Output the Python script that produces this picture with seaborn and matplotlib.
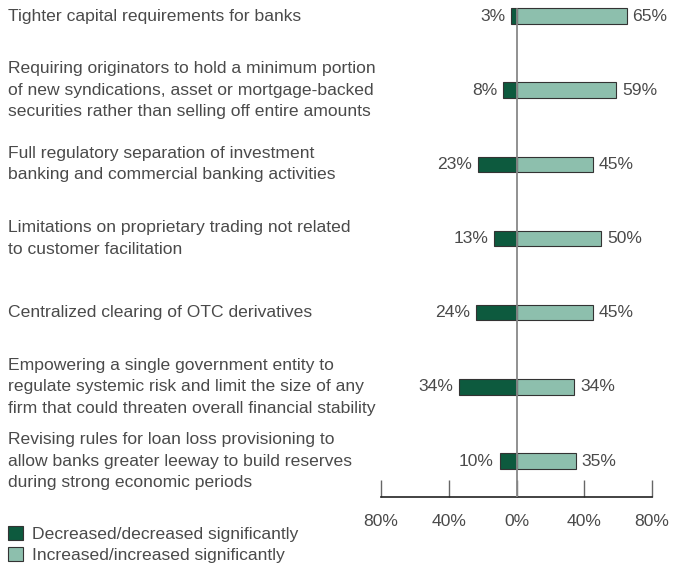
import matplotlib
matplotlib.use("Agg")
import matplotlib.pyplot as plt
import matplotlib.transforms as mtransforms
from matplotlib.patches import Patch
import pandas as pd
import seaborn as sns

categories = [
    "Tighter capital requirements for banks",
    "Requiring originators to hold a minimum portion\nof new syndications, asset or mortgage-backed\nsecurities rather than selling off entire amounts",
    "Full regulatory separation of investment\nbanking and commercial banking activities",
    "Limitations on proprietary trading not related\nto customer facilitation",
    "Centralized clearing of OTC derivatives",
    "Empowering a single government entity to\nregulate systemic risk and limit the size of any\nfirm that could threaten overall financial stability",
    "Revising rules for loan loss provisioning to\nallow banks greater leeway to build reserves\nduring strong economic periods",
]
decreased = [3, 8, 23, 13, 24, 34, 10]
increased = [65, 59, 45, 50, 45, 34, 35]
tick_values = [-80, -40, 0, 40, 80]
tick_labels = ["80%", "40%", "0%", "40%", "80%"]
legend_labels = ["Decreased/decreased significantly", "Increased/increased significantly"]

dark = "#0d5a3e"
light = "#8dbfad"
edge = "#333333"
txt = "#4a4a4a"
fs = 12.6

sns.set_style("white")
plt.rcParams["font.family"] = ["Liberation Sans", "DejaVu Sans"]

keys = [f"c{i}" for i in range(len(categories))]
df = pd.DataFrame({"key": keys, "dec": [-v for v in decreased], "inc": increased})

fig = plt.figure(figsize=(6.73, 5.65), dpi=100)
ax = fig.add_axes([381 / 673, 68 / 565, 271 / 673, 497 / 565])

sns.barplot(data=df, x="inc", y="key", orient="h", color=light, width=0.21,
            edgecolor=edge, linewidth=0.8, saturation=1, ax=ax)
sns.barplot(data=df, x="dec", y="key", orient="h", color=dark, width=0.21,
            edgecolor=edge, linewidth=0.8, saturation=1, ax=ax)

ax.set_xlim(-80, 80)
ax.set_ylim(6.485, -0.216)
ax.axvline(0, ymin=0, ymax=(6.485 + 0.1) / (6.485 + 0.216), color="#888888", lw=1.3, zorder=5)

for i in range(len(categories)):
    ax.text(-decreased[i] - 3.5, i, f"{decreased[i]}%", ha="right", va="center",
            fontsize=fs, color=txt)
    ax.text(increased[i] + 3.5, i, f"{increased[i]}%", ha="left", va="center",
            fontsize=fs, color=txt)

trans = mtransforms.blended_transform_factory(fig.transFigure, ax.transData)
for i, c in enumerate(categories):
    ax.text(8 / 673, i, c, transform=trans, ha="left", va="center",
            fontsize=fs, color=txt, linespacing=1.52)

for s in ["top", "right", "left"]:
    ax.spines[s].set_visible(False)
ax.spines["bottom"].set_color("#222222")
ax.spines["bottom"].set_linewidth(1.2)
ax.set_xticks(tick_values)
ax.set_xticklabels(tick_labels)
ax.tick_params(axis="x", direction="in", length=12, width=1, color="#666666",
               labelsize=fs, labelcolor=txt, pad=12, bottom=True)
ax.set_yticks([])
ax.set_xlabel("")
ax.set_ylabel("")

handles = [Patch(facecolor=dark, edgecolor=edge, lw=0.8),
           Patch(facecolor=light, edgecolor=edge, lw=0.8)]
fig.legend(handles, legend_labels, loc="lower left", bbox_to_anchor=(8 / 673, 2 / 565),
           frameon=False, fontsize=fs, handlelength=0.85, handleheight=0.85,
           handletextpad=0.55, labelspacing=0.3, labelcolor=txt,
           borderaxespad=0, borderpad=0)

fig.savefig("out.png", dpi=100)
